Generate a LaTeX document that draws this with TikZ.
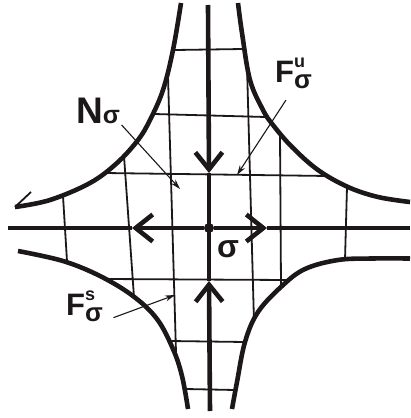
\documentclass[tikz,border=0pt]{standalone}
\usepackage{fontspec}
\setmainfont{Liberation Sans}
\usepackage{tikz}
\usetikzlibrary{arrows.meta}
\definecolor{ink}{HTML}{1C1718}
\newcommand{\fsig}[1]{F\rlap{\raisebox{15pt}{\fontsize{18}{18}\selectfont #1}}\raisebox{-6pt}{\fontsize{26}{26}\selectfont σ}}

\begin{document}
\begin{tikzpicture}[
  x=1pt, y=-1pt,
  axis/.style={line width=4.6pt, color=ink},
  chev/.style={axis, -{Straight Barb[length=17pt, width=27pt]}},
  curve/.style={line width=4.6pt, color=ink, smooth, tension=0.6},
  grid/.style={line width=1.8pt, color=ink},
  arr/.style={-{Stealth[length=10pt, width=6pt]}, line width=1.1pt, color=ink},
  lbl/.style={inner sep=0pt, text=ink, font=\bfseries\fontsize{31}{31}\selectfont},
  dot/.style={circle, fill=ink, inner sep=0pt, minimum size=10pt}
]
\useasboundingbox (0,0) rectangle (410,418);

% Mesh
\draw[grid] (175,50) -- (243,49);
\draw[grid] (154,114) -- (266,117);
\draw[grid] (105,173) -- (328,176);
\draw[grid] (106,279) -- (288,280);
\draw[grid] (170,341) -- (245,342);
\draw[grid] (186,389) -- (235,390);
\draw[grid] (63,196) -- (67,261);
\draw[grid] (124,156) -- (134,297);
\draw[grid] (168,76) -- (176,352);
\draw[grid] (247,66) -- (254,322);
\draw[grid] (280,134) -- (281,286);
\draw[grid] (347,187) -- (345,260);

% Boundary curves
\draw[curve] plot coordinates {(181,3) (173,50) (163,90) (150,120) (138,140) (117,163) (90,183) (50,200) (15,207)};
\coordinate (ulend) at (15,207);
\draw[grid] (ulend) -- ++(16,-15);
\draw[curve] plot coordinates {(238,3) (242,33) (250,80) (263,110) (273,125) (292,147) (318,170) (348,187) (378,197) (410,202)};
\draw[curve] plot coordinates {(18,251) (63,261) (100,276) (133,296) (157,319) (173,349) (182,376) (188,409)};
\draw[curve] plot coordinates {(232,409) (237,382) (245,342) (258,312) (282,286) (305,269) (338,260) (372,258.5) (410,258.5)};

% Axes with flow arrows
\node[dot] (o) at (209,228) {};
\coordinate (top) at (208,5);
\coordinate (bot) at (210,411);
\coordinate (lft) at (8,228);
\coordinate (rgt) at (410,228);
\coordinate (dtip) at (209,173);
\coordinate (utip) at (209,281);
\coordinate (ltip) at (132,228);
\coordinate (rtip) at (267,228);
\draw[chev] (top) -- (dtip);
\draw[axis] (dtip) -- (utip);
\draw[chev] (bot) -- (utip);
\draw[chev] (o) -- (ltip);
\draw[axis] (lft) -- (ltip);
\draw[chev] (o) -- (rtip);
\draw[axis] (rtip) -- (rgt);

% Labels
\node[lbl, anchor=base west, font=\bfseries\fontsize{37}{37}\selectfont] (nlab) at (76,123) {N{\fontsize{25}{25}\selectfont σ}};
\node[lbl, anchor=base west] (fulab) at (275,82) {\fsig{u}};
\node[lbl, anchor=base west] (fslab) at (66,315) {\fsig{s}};
\node[lbl, anchor=base west, font=\bfseries\fontsize{32}{32}\selectfont] (sig) at (217,257) {σ};

\coordinate (ntip) at (180,189);
\coordinate (futip) at (237,175);
\coordinate (fstip) at (175,295);
\draw[arr, shorten <=2pt] (nlab.south east) -- (ntip);
\draw[arr, shorten <=14pt] (fulab.south) -- (futip);
\draw[arr, shorten <=11pt] (fslab.south east) -- (fstip);
\end{tikzpicture}
\end{document}
